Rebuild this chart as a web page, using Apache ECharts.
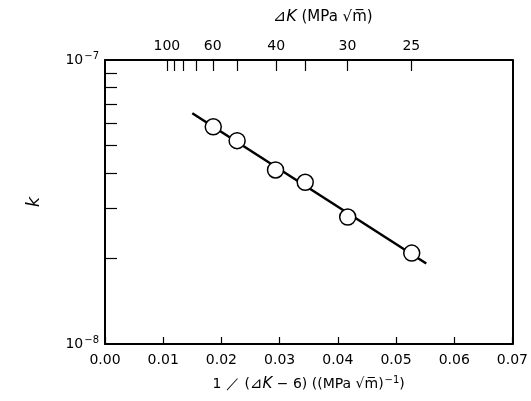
<!DOCTYPE html>
<html><head><meta charset="utf-8">
<script src="https://cdn.jsdelivr.net/npm/echarts@6/dist/echarts.min.js"></script>
<style>html,body{margin:0;padding:0;background:#fff}#c{width:531px;height:401px}</style>
</head><body><div id="c"></div>
<script>
// bottom axis: 1/(ΔK-6)
const xMin = 0, xMax = 0.07, xStep = 0.01;
// top axis: ΔK tick marks and labelled ticks
const dkTicks = [100, 90, 80, 70, 60, 50, 40, 35, 30, 25];
const dkLabels = [100, 60, 40, 30, 25];
// log y axis minor ticks
const yMinorTicks = [2e-8, 3e-8, 4e-8, 5e-8, 6e-8, 7e-8, 8e-8, 9e-8];
// measured points
const xData = [0.0186, 0.0227, 0.0293, 0.0344, 0.0417, 0.0527];
const kData = [5.82e-8, 5.20e-8, 4.10e-8, 3.71e-8, 2.80e-8, 2.09e-8];
// fitted line
const fitX = [0.0150, 0.0552];
const fitK = [6.49e-8, 1.92e-8];

const FONT = 'DejaVu Sans';
const toInv = d => 1 / (d - 6);
const richStyles = {
  n: {fontFamily: FONT, fontSize: 14, color: '#000'},
  t: {fontFamily: FONT, fontSize: 15, color: '#000'},
  s: {fontFamily: FONT, fontSize: 10, color: '#000', verticalAlign: 'top', padding: [0, 0, 8, 1]},
  i: {fontFamily: FONT, fontSize: 15, color: '#000', fontStyle: 'italic'},
  j: {fontFamily: FONT, fontSize: 16, color: '#000', fontStyle: 'italic'}
};

const chart = echarts.init(document.getElementById('c'), null, {renderer: 'canvas'});
chart.setOption({
  animation: false,
  backgroundColor: '#fff',
  grid: {left: 105, right: 13, top: 60, bottom: 57, show: false},
  xAxis: [{
    type: 'value', position: 'bottom', min: xMin, max: xMax, interval: xStep,
    axisLine: {show: true, onZero: false, lineStyle: {color: '#000', width: 2}},
    axisTick: {show: true, inside: true, length: 7, lineStyle: {color: '#000', width: 1.2}},
    splitLine: {show: false},
    axisLabel: {color: '#000', fontFamily: FONT, fontSize: 14, margin: 9,
      formatter: v => v.toFixed(2)},
    name: '{n|1 ／ (}{i|⊿K}{n| − 6) ((MPa √m̅)}{s|−1}{n|)}',
    nameLocation: 'middle', nameGap: 31,
    nameTextStyle: {color: '#000', fontFamily: FONT, fontSize: 14, rich: richStyles}
  }, {
    type: 'value', position: 'top', min: xMin, max: xMax,
    axisLine: {show: true, onZero: false, lineStyle: {color: '#000', width: 2}},
    axisTick: {show: true, inside: true, length: 11, customValues: dkTicks.map(toInv),
      lineStyle: {color: '#000', width: 1.2}},
    splitLine: {show: false},
    axisLabel: {color: '#000', fontFamily: FONT, fontSize: 14, margin: 7,
      customValues: dkLabels.map(toInv),
      formatter: v => String(Math.round(1 / v + 6))},
    name: '{j|⊿K}{t| (MPa √m̅)}',
    nameLocation: 'middle', nameGap: 35,
    nameTextStyle: {color: '#000', fontFamily: FONT, fontSize: 15, padding: [0, 0, 0, 28], rich: richStyles}
  }],
  yAxis: [{
    type: 'log', logBase: 10, min: 1e-8, max: 1e-7, position: 'left',
    axisLine: {show: true, onZero: false, lineStyle: {color: '#000', width: 2}},
    axisTick: {show: true, inside: true, length: 12, customValues: yMinorTicks,
      lineStyle: {color: '#000', width: 1.2}},
    splitLine: {show: false},
    axisLabel: {color: '#000', fontFamily: FONT, fontSize: 14, margin: 6,
      formatter: v => '{n|10}{s|' + '−' + Math.abs(Math.round(Math.log10(v))) + '}',
      rich: richStyles},
    name: 'k', nameLocation: 'middle', nameGap: 62, nameRotate: 90,
    nameTextStyle: {color: '#000', fontFamily: FONT, fontSize: 18, fontStyle: 'italic'}
  }, {
    type: 'log', logBase: 10, min: 1e-8, max: 1e-7, position: 'right',
    axisLine: {show: true, onZero: false, lineStyle: {color: '#000', width: 2}},
    axisTick: {show: false}, axisLabel: {show: false}, splitLine: {show: false}
  }],
  series: [{
    type: 'line', xAxisIndex: 0, yAxisIndex: 0,
    data: fitX.map((x, i) => [x, fitK[i]]),
    showSymbol: false, symbol: 'none',
    lineStyle: {color: '#000', width: 2.5}, z: 2
  }, {
    type: 'scatter', xAxisIndex: 0, yAxisIndex: 0,
    data: xData.map((x, i) => [x, kData[i]]),
    symbol: 'circle', symbolSize: 16,
    itemStyle: {color: '#fff', borderColor: '#000', borderWidth: 1.5, opacity: 1}, z: 3
  }]
});
</script></body></html>
